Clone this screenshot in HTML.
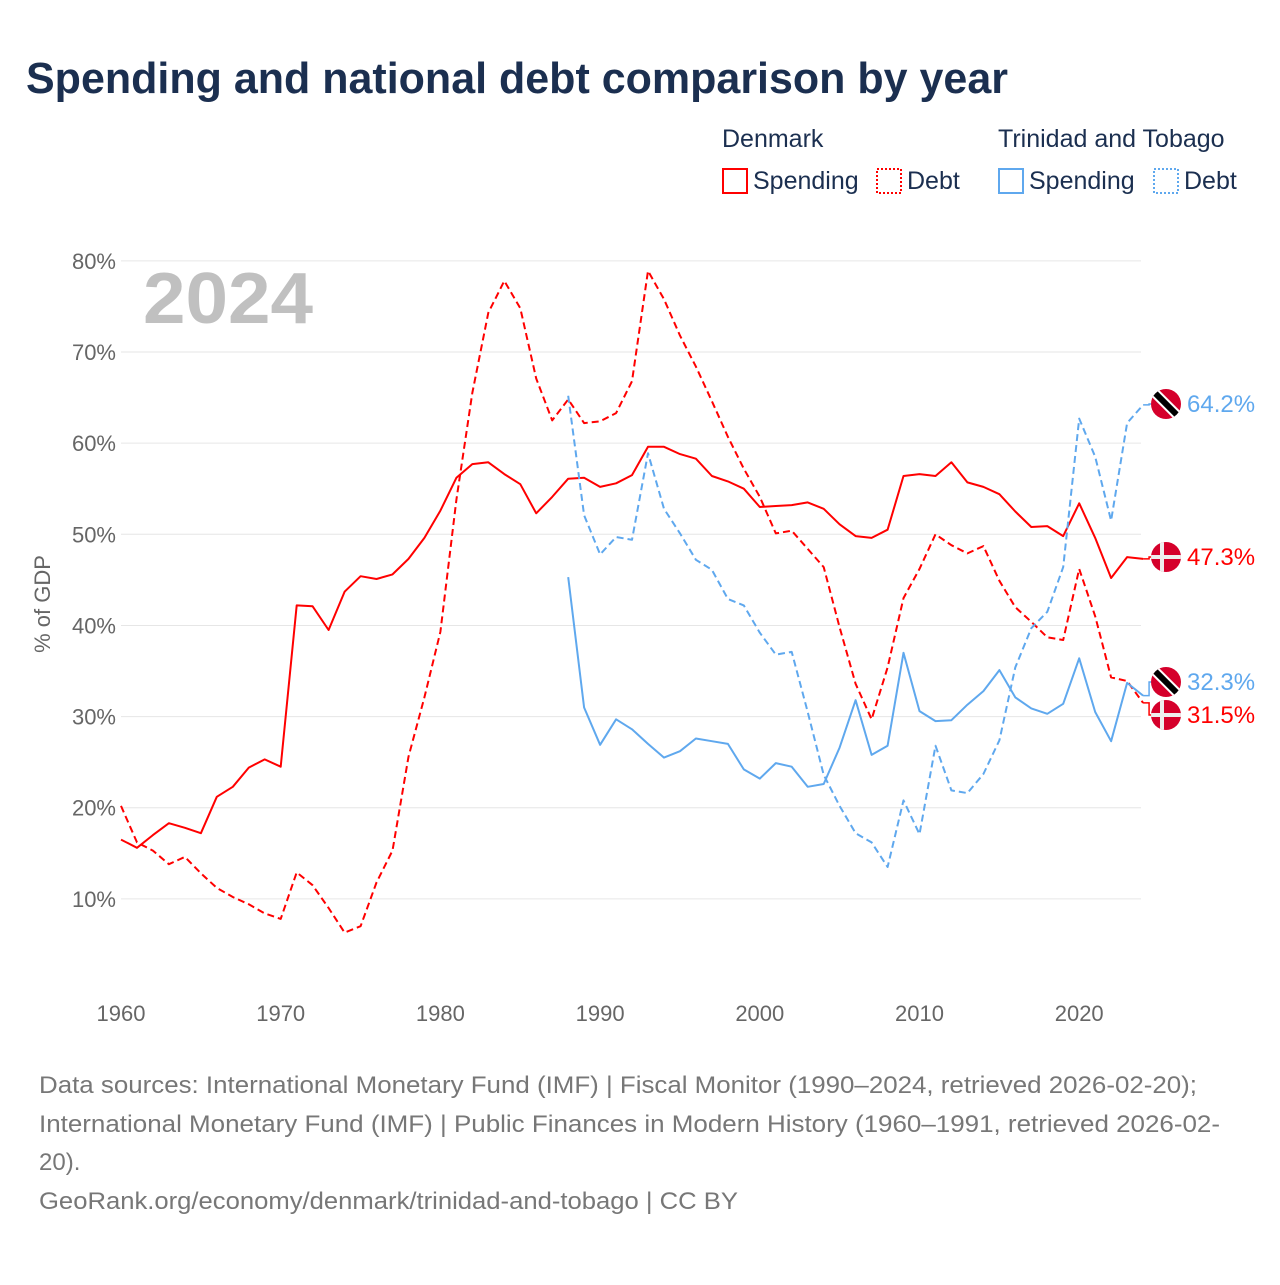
<!DOCTYPE html>
<html><head><meta charset="utf-8"><style>
body{margin:0;width:1280px;height:1280px;background:#fff;font-family:"Liberation Sans",sans-serif;overflow:hidden}
</style></head><body>
<svg id="c" width="1280" height="1280" xmlns="http://www.w3.org/2000/svg">
<defs>
<clipPath id="cf"><circle cx="0" cy="0" r="15"/></clipPath>
</defs>
<text x="26" y="93" font-size="44" font-weight="bold" fill="#1b2f50" textLength="982" lengthAdjust="spacingAndGlyphs">Spending and national debt comparison by year</text>
<g font-size="25" fill="#1b2f50">
<text x="722" y="147">Denmark</text>
<text x="998" y="147">Trinidad and Tobago</text>
<g><rect x="723" y="169" width="24" height="24" fill="none" stroke="#f00" stroke-width="2"/><text x="753" y="189">Spending</text></g>
<g><rect x="877" y="169" width="24" height="24" fill="none" stroke="#f00" stroke-width="2" stroke-dasharray="2,2"/><text x="907" y="189">Debt</text></g>
<g><rect x="999" y="169" width="24" height="24" fill="none" stroke="#5fa8ee" stroke-width="2"/><text x="1029" y="189">Spending</text></g>
<g><rect x="1154" y="169" width="24" height="24" fill="none" stroke="#5fa8ee" stroke-width="2" stroke-dasharray="2,2"/><text x="1184" y="189">Debt</text></g>
</g>
<g id="grid"></g>
<text x="143" y="323" font-size="72" font-weight="bold" fill="#c0c0c0" textLength="170" lengthAdjust="spacingAndGlyphs">2024</text>
<text transform="translate(50,604) rotate(-90)" text-anchor="middle" font-size="22" fill="#666">% of GDP</text>
<g id="series"></g>
<g id="ends"></g>
<g font-size="24" fill="#777">
<text x="39" y="1093" textLength="1158" lengthAdjust="spacingAndGlyphs">Data sources: International Monetary Fund (IMF) | Fiscal Monitor (1990–2024, retrieved 2026-02-20);</text>
<text x="39" y="1132" textLength="1181" lengthAdjust="spacingAndGlyphs">International Monetary Fund (IMF) | Public Finances in Modern History (1960–1991, retrieved 2026-02-</text>
<text x="39" y="1170">20).</text>
<text x="39" y="1209" textLength="699" lengthAdjust="spacingAndGlyphs">GeoRank.org/economy/denmark/trinidad-and-tobago | CC BY</text>
</g>
</svg>
<script>
const yTicks=[10,20,30,40,50,60,70,80];
const xTicks=[1960,1970,1980,1990,2000,2010,2020];
const dkSpending=[16.5,15.6,17,18.3,17.8,17.2,21.2,22.3,24.4,25.3,24.5,42.2,42.1,39.5,43.7,45.4,45.1,45.6,47.3,49.6,52.6,56.2,57.7,57.9,56.6,55.5,52.3,54.1,56.1,56.2,55.2,55.6,56.5,59.6,59.6,58.8,58.3,56.4,55.8,55,53,53.1,53.2,53.5,52.8,51.1,49.8,49.6,50.5,56.4,56.6,56.4,57.9,55.7,55.2,54.4,52.5,50.8,50.9,49.8,53.4,49.6,45.2,47.5,47.3];
const dkDebt=[20.2,16.2,15.3,13.8,14.6,12.8,11.2,10.2,9.4,8.4,7.8,12.9,11.5,9,6.3,7,11.8,15.3,25.6,32.1,39.3,53.8,65.5,74.3,77.8,74.8,67.1,62.5,64.8,62.2,62.4,63.3,66.8,78.9,75.8,71.8,68.4,64.6,60.7,57.2,54.1,50.1,50.4,48.4,46.4,39.8,33.6,29.7,35.4,43,46.2,50,48.8,47.9,48.7,44.9,42,40.4,38.7,38.4,46.2,41,34.3,33.9,31.5];
const ttSpending=[45.3,31,26.9,29.7,28.6,27,25.5,26.2,27.6,27.3,27,24.2,23.2,24.9,24.5,22.3,22.6,26.6,31.8,25.8,26.8,37,30.6,29.5,29.6,31.3,32.8,35.1,32.1,30.9,30.3,31.4,36.4,30.5,27.3,33.7,32.3];
const ttDebt=[65.2,52.1,47.8,49.7,49.4,58.9,52.8,50.1,47.2,46.1,42.9,42.2,39.2,36.8,37.1,30.5,23.6,20.2,17.2,16.2,13.5,20.8,17.1,26.8,21.9,21.6,23.7,27.4,35.4,39.7,41.5,46.4,62.7,58.5,51.5,62.2,64.2];
const NS="http://www.w3.org/2000/svg";
const X=yr=>121+(yr-1960)*15.97;
const Y=v=>990-v*9.114;
function mk(t,a,p){const e=document.createElementNS(NS,t);for(const k in a)e.setAttribute(k,a[k]);p.appendChild(e);return e;}
const g=document.getElementById('grid');
yTicks.forEach(v=>{
 const l=mk('line',{x1:121,x2:1141,y1:Y(v),y2:Y(v),stroke:'#e6e6e6','stroke-width':1},g);
 
 
 const t=mk('text',{x:116,y:Y(v)+8,'text-anchor':'end','font-size':22,fill:'#666'},g);
 t.textContent=v+'%';
 
 
});
xTicks.forEach(yr=>{
 const t=mk('text',{x:X(yr),y:1021,'text-anchor':'middle','font-size':22,fill:'#666'},g);
 t.textContent=yr;
 
 
});
const s=document.getElementById('series');
function line(arr,start,color,dash,name){
 const d=arr.map((v,i)=>(i?'L':'M')+X(start+i).toFixed(1)+','+Y(v).toFixed(1)).join('');
 const p=mk('path',{d:d,fill:'none',stroke:color,'stroke-width':2,'stroke-dasharray':dash,'stroke-linejoin':'round'},s);
 
 
}
line(dkSpending,1960,'#f00','none','dk-spending-line');
line(dkDebt,1960,'#f00','7,4','dk-debt-line');
line(ttSpending,1988,'#5fa8ee','none','tt-spending-line');
line(ttDebt,1988,'#5fa8ee','7,4','tt-debt-line');
const e=document.getElementById('ends');
function flag(cy,type,val,color,name,sy){
 const x0=X(2024);
 mk('path',{d:`M${x0},${sy}H${x0+6}V${cy}H1151`,fill:'none',stroke:color,'stroke-width':1.5},e);
 const gg=mk('g',{transform:`translate(1166,${cy})`},e);
 
 
 const inner=mk('g',{'clip-path':'url(#cf)'},gg);
 mk('rect',{x:-15,y:-15,width:30,height:30,fill:'#d5002b'},inner);
 if(type==='dk'){mk('rect',{x:-15,y:-2,width:30,height:4,fill:'#eee'},inner);mk('rect',{x:-6,y:-15,width:4,height:30,fill:'#eee'},inner);}
 else{mk('line',{x1:-15,y1:-15,x2:15,y2:15,stroke:'#fff','stroke-width':10},inner);mk('line',{x1:-15,y1:-15,x2:15,y2:15,stroke:'#000','stroke-width':6},inner);}
 const t=mk('text',{x:1187,y:cy+8,'font-size':24,fill:color},e);
 t.textContent=val.toFixed(1)+'%';
 
 
}
flag(404,'tt',ttDebt[ttDebt.length-1],'#5fa8ee','tt-debt',Y(ttDebt[ttDebt.length-1]));
flag(557,'dk',dkSpending[dkSpending.length-1],'#f00','dk-spending',Y(dkSpending[dkSpending.length-1]));
flag(682,'tt',ttSpending[ttSpending.length-1],'#5fa8ee','tt-spending',Y(ttSpending[ttSpending.length-1]));
flag(715,'dk',dkDebt[dkDebt.length-1],'#f00','dk-debt',Y(dkDebt[dkDebt.length-1]));
</script>
</body></html>
